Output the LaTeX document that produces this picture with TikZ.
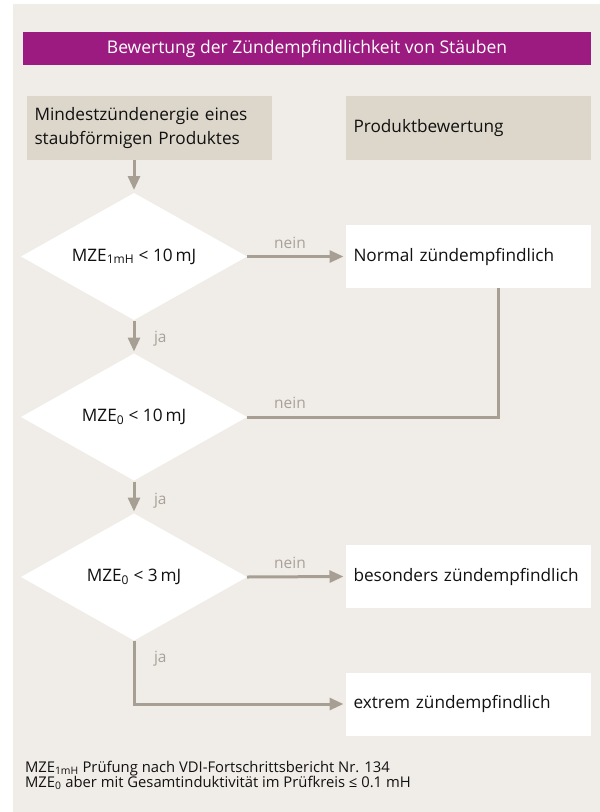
\documentclass[tikz,border=0pt]{standalone}
\usepackage{fontspec}
\setmainfont{Open Sans}
\usetikzlibrary{shapes.geometric,arrows.meta}
\definecolor{bg}{HTML}{F0EDE8}
\definecolor{purp}{HTML}{9B1B80}
\definecolor{boxbeige}{HTML}{DDD6CA}
\definecolor{arr}{HTML}{A89F94}
\definecolor{lbl}{HTML}{A9A199}
\definecolor{txt}{HTML}{111111}
\begin{document}
\begin{tikzpicture}[x=1pt,y=-1pt,
  every node/.style={inner sep=0pt,outer sep=0pt,text=txt},
  titlebar/.style={fill=purp,minimum width=568pt,minimum height=33pt,text=white,font=\fontsize{17.5}{20}\selectfont},
  headbox/.style={fill=boxbeige,minimum width=245pt,minimum height=64pt,text width=229pt,align=left,font=\fontsize{17.2}{24}\selectfont},
  resbox/.style={fill=white,minimum width=245pt,minimum height=63pt,text width=229pt,align=left,font=\fontsize{17.2}{20}\selectfont},
  decis/.style={diamond,fill=white,aspect=1.78,minimum width=226pt,minimum height=127pt,font=\fontsize{17.2}{20}\selectfont},
  conn/.style={draw=arr,line width=3pt,-{Triangle[length=14pt,width=12pt]}},
  plainconn/.style={draw=arr,line width=3pt},
  lab/.style={text=lbl,font=\fontsize{15.5}{18}\selectfont},
  foot/.style={anchor=north west,align=left,font=\fontsize{14.8}{15}\selectfont}
]
\useasboundingbox (0,0) rectangle (600,812);
\fill[bg] (13,4) rectangle (600,812);

\node[titlebar] (title) at (307,48.5) {Bewertung der Zündempfindlichkeit von Stäuben};
\node[headbox] (b1) at (149,128) {Mindestzündenergie eines\\staubförmigen Produktes};
\node[headbox] (b2) at (468,128) {Produktbewertung};

\node[decis] (d1) at (134,256.5) {MZE\textsubscript{1mH} < 10\,mJ};
\node[decis] (d2) at (134,417) {MZE\textsubscript{0} < 10\,mJ};
\node[decis] (d3) at (134,577) {MZE\textsubscript{0} < 3\,mJ};

\node[resbox] (nz) at (468,256.5) {Normal zündempfindlich};
\node[resbox] (bz) at (468,576.5) {besonders zündempfindlich};
\node[resbox] (ez) at (468,704) {extrem zündempfindlich};

\draw[conn,shorten >=3pt] (d1.north |- b1.south) -- (d1.north);
\draw[conn,shorten >=2pt] (d1.east) -- (nz.west);
\draw[conn,shorten >=2pt,shorten <=1pt] (d1.south) -- (d2.north);
\coordinate (k) at ([xshift=30pt]nz.south);
\draw[plainconn] (k) |- (d2.east);
\draw[conn,shorten >=2pt,shorten <=1pt] (d2.south) -- (d3.north);
\draw[conn,shorten >=2pt] (d3.east) -- (bz.west);
\draw[conn,shorten >=2pt] (d3.south) |- (ez.west);

\node[lab] (n1) at (290,243) {nein};
\node[lab] (n2) at (290,403) {nein};
\node[lab] (n3) at (290,563) {nein};
\node[lab,anchor=west] (j1) at (154,339) {ja};
\node[lab,anchor=west] (j2) at (154,501) {ja};
\node[lab,anchor=west] (j3) at (154,659) {ja};

\node[foot] (fn) at (25,761) {MZE\textsubscript{1mH} Prüfung nach VDI-Fortschrittsbericht Nr. 134\\MZE\textsubscript{0} aber mit Gesamtinduktivität im Prüfkreis ≤ 0.1 mH};
\end{tikzpicture}
\end{document}
